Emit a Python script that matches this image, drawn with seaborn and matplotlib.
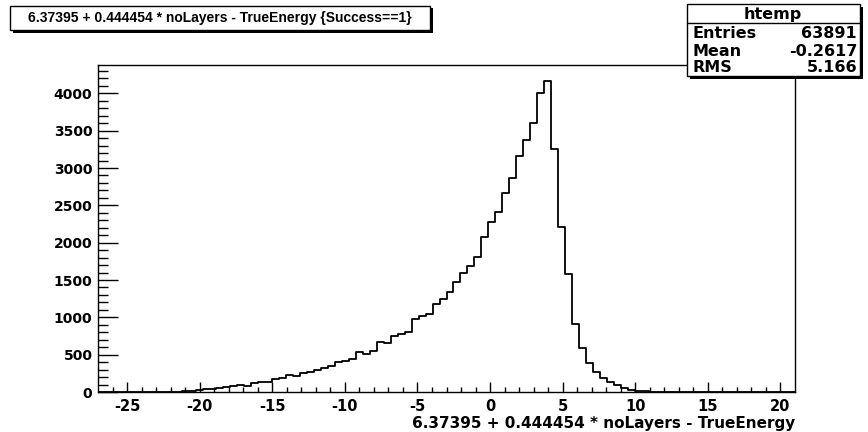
import numpy as np
import pandas as pd
import matplotlib
matplotlib.use("Agg")
import matplotlib.pyplot as plt
from matplotlib.patches import Rectangle
import seaborn as sns

# ---- data ----
x_min, x_max, n_bins = -27.0, 21.0, 100
counts = [
    0, 0, 0, 0, 0, 0, 0, 0, 0, 1,
    2, 3, 8, 18, 28, 36, 42, 52, 62, 78,
    95, 80, 122, 135, 140, 178, 185, 222, 214, 248,
    268, 290, 318, 346, 397, 420, 442, 531, 509, 553,
    674, 661, 750, 777, 808, 974, 1018, 1045, 1185, 1242,
    1335, 1469, 1598, 1688, 1813, 2072, 2273, 2410, 2670, 2868,
    3166, 3376, 3608, 4010, 4170, 3259, 2214, 1581, 907, 585,
    393, 264, 192, 134, 89, 49, 27, 18, 12, 6,
    3, 1, 0, 0, 0, 0, 0, 0, 0, 0,
    0, 0, 0, 0, 0, 0, 0, 0, 0, 0,
]
x_ticks = [-25, -20, -15, -10, -5, 0, 5, 10, 15, 20]
y_ticks = [0, 500, 1000, 1500, 2000, 2500, 3000, 3500, 4000]
title_text = "6.37395 + 0.444454 * noLayers - TrueEnergy {Success==1}"
x_label = "6.37395 + 0.444454 * noLayers - TrueEnergy"
stats_name = "htemp"
stats_rows = [("Entries", "63891"), ("Mean", "-0.2617"), ("RMS", "5.166")]

edges = np.linspace(x_min, x_max, n_bins + 1)
centers = 0.5 * (edges[:-1] + edges[1:])
df = pd.DataFrame({"x": centers, "w": counts})

sns.set_style("white")
plt.rcParams["font.family"] = ["DejaVu Sans"]
plt.rcParams["font.weight"] = "bold"
plt.rcParams["text.color"] = "black"
plt.rcParams["xtick.color"] = "black"
plt.rcParams["ytick.color"] = "black"
plt.rcParams["axes.labelcolor"] = "black"

W, H = 868, 432
fig = plt.figure(figsize=(W / 100, H / 100), dpi=100)

def fx(px):
    return px / W

def fy(py):
    return 1 - py / H

left, right, top, bottom = 98, 795, 65, 392
ax = fig.add_axes([fx(left), fy(bottom), (right - left) / W, (bottom - top) / H])

sns.histplot(data=df, x="x", weights="w", bins=n_bins, binrange=(x_min, x_max),
             element="step", fill=False, color="black", linewidth=1.3, ax=ax)

ax.set_xlim(x_min, x_max)
ax.set_ylim(0, 4380)
ax.set_xticks(x_ticks)
ax.set_xticks(np.arange(-26, 21, 1), minor=True)
ax.set_yticks(y_ticks)
ax.set_yticks(np.arange(0, 4400, 100), minor=True)
ax.set_xticklabels([str(t) for t in x_ticks], fontsize=10.5, fontweight="bold", color="black")
ax.set_yticklabels([str(t) for t in y_ticks], fontsize=10, fontweight="bold", color="black")
ax.tick_params(axis="y", which="major", direction="in", length=14.4, width=1, pad=4, left=True, right=False)
ax.tick_params(axis="y", which="minor", direction="in", length=7.2, width=1, left=True, right=False)
ax.tick_params(axis="x", which="major", direction="in", length=7.2, width=1, pad=5, bottom=True, top=False)
ax.tick_params(axis="x", which="minor", direction="in", length=3.6, width=1, bottom=True, top=False)
ax.set_ylabel("")
ax.set_xlabel(x_label, fontsize=11, fontweight="bold", color="black")
ax.xaxis.set_label_coords(1.0, -0.11)
ax.xaxis.label.set_horizontalalignment("right")
ax.xaxis.label.set_verticalalignment("baseline")
for s in ax.spines.values():
    s.set_color("black")
    s.set_linewidth(1.0)

# ---- title box ----
def box(x0, y0, x1, y1, shadow=2.5):
    fig.patches.append(Rectangle((fx(x0 + shadow), fy(y1 + shadow)), (x1 - x0) / W, (y1 - y0) / H,
                                 transform=fig.transFigure, facecolor="black", edgecolor="none", zorder=10))
    fig.patches.append(Rectangle((fx(x0), fy(y1)), (x1 - x0) / W, (y1 - y0) / H,
                                 transform=fig.transFigure, facecolor="white", edgecolor="black",
                                 linewidth=1.0, zorder=11))

box(10, 6, 430, 30)
fig.text(fx(220), fy(18), title_text, ha="center", va="center", fontsize=10, fontweight="bold",
         family=["Liberation Sans", "DejaVu Sans"], zorder=12)

# ---- stats box ----
box(687, 4, 860, 76)
fig.lines.append(plt.Line2D([fx(687), fx(860)], [fy(23), fy(23)], transform=fig.transFigure,
                            color="black", linewidth=1.0, zorder=12))
fig.text(fx(773), fy(14), stats_name, ha="center", va="center", fontsize=11.5, fontweight="bold", zorder=12)
row_y = [33, 51, 68]
for (lab, val), yy in zip(stats_rows, row_y):
    fig.text(fx(692), fy(yy), lab, ha="left", va="center", fontsize=11.5, fontweight="bold", zorder=12)
    fig.text(fx(857), fy(yy), val, ha="right", va="center", fontsize=11.5, fontweight="bold", zorder=12)

fig.savefig("out.png", dpi=100)
